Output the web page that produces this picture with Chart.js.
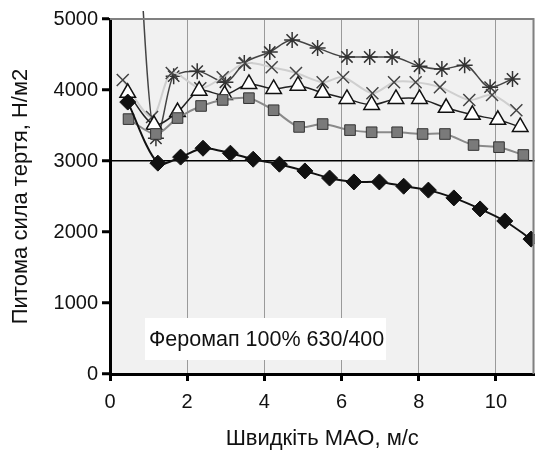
<!DOCTYPE html>
<html>
<head>
<meta charset="utf-8">
<script src="https://cdn.jsdelivr.net/npm/chart.js@4.4.0/dist/chart.umd.min.js"></script>
<style>
  body { margin: 0; background: #fff; }
</style>
</head>
<body>
<canvas id="mycanvas" width="545" height="450"></canvas>
<script>
// values
var xTicks = [0, 2, 4, 6, 8, 10];
var yTicks = [0, 1000, 2000, 3000, 4000, 5000];

var diamondX = [0.46, 1.24, 1.83, 2.41, 3.12, 3.71, 4.39, 5.05, 5.69, 6.32, 6.98, 7.61, 8.25, 8.91, 9.59, 10.23, 10.91];
var diamondY = [3830, 2970, 3055, 3180, 3110, 3025, 2955, 2860, 2760, 2705, 2705, 2645, 2590, 2480, 2325, 2155, 1900];

var squareX = [0.48, 1.19, 1.75, 2.36, 2.92, 3.60, 4.24, 4.90, 5.51, 6.22, 6.78, 7.44, 8.10, 8.68, 9.42, 10.08, 10.71];
var squareY = [3590, 3380, 3605, 3775, 3860, 3885, 3715, 3480, 3520, 3435, 3405, 3405, 3380, 3380, 3225, 3195, 3085];

var triangleX = [0.46, 1.14, 1.75, 2.31, 2.97, 3.60, 4.24, 4.87, 5.51, 6.14, 6.78, 7.41, 8.02, 8.71, 9.39, 10.05, 10.63];
var triangleY = [3960, 3510, 3690, 3990, 3930, 4085, 4015, 4060, 3960, 3875, 3790, 3875, 3875, 3750, 3650, 3580, 3480];

var crossX = [0.33, 1.09, 1.60, 2.34, 2.92, 3.50, 4.19, 4.82, 5.51, 6.04, 6.80, 7.36, 7.92, 8.55, 9.31, 9.90, 10.53];
var crossY = [4140, 3620, 4240, 4025, 4180, 4380, 4320, 4240, 4110, 4180, 3955, 4110, 4110, 4040, 3860, 3930, 3715];

var starX = [0.46, 1.19, 1.65, 2.26, 2.99, 3.48, 4.14, 4.72, 5.38, 6.14, 6.73, 7.31, 8.02, 8.60, 9.19, 9.85, 10.43];
var starY = [9000, 3320, 4195, 4265, 4110, 4380, 4535, 4705, 4590, 4465, 4465, 4465, 4335, 4295, 4350, 4040, 4155];

var boxLabel = 'Феромап 100% 630/400';
var xTitle = 'Швидкіть МАО, м/с';
var yTitle = 'Питома сила тертя, Н/м2';

function pts(xs, ys) {
  var out = [];
  for (var i in xs) {
    out.push({x: xs[i], y: ys[i]});
  }
  return out;
}

var fontFamily = '"Liberation Sans", Arial, sans-serif';

var framePlugin = {
  id: 'frame',
  beforeDraw: function(chart) {
    var a = chart.chartArea, ctx = chart.ctx;
    ctx.save();
    ctx.fillStyle = '#f1f1f1';
    ctx.fillRect(a.left, a.top, a.right - a.left, a.bottom - a.top);
    ctx.restore();
  },
  afterDatasetsDraw: function(chart) {
    var a = chart.chartArea, ctx = chart.ctx;
    ctx.save();
    ctx.strokeStyle = '#808080';
    ctx.lineWidth = 2;
    ctx.beginPath();
    ctx.moveTo(a.left, a.top);
    ctx.lineTo(a.right - 1, a.top);
    ctx.lineTo(a.right - 1, a.bottom);
    ctx.stroke();
    // label box
    ctx.fillStyle = '#ffffff';
    ctx.fillRect(145, 318, 241, 42);
    ctx.fillStyle = '#111';
    ctx.font = '21.5px ' + fontFamily;
    ctx.textBaseline = 'middle';
    ctx.fillText(boxLabel, 149, 340);
    ctx.restore();
  }
};

var ctx = document.getElementById('mycanvas');

var scatterChart = new Chart(ctx, {
  type: 'scatter',
  data: {
    datasets: [
      {
        label: 'diamond',
        data: pts(diamondX, diamondY),
        showLine: true,
        borderColor: '#111',
        borderWidth: 2,
        backgroundColor: '#111',
        pointStyle: 'rectRot',
        pointRadius: 8,
        pointBorderColor: '#111',
        pointBorderWidth: 1,
        tension: 0.3,
        order: 1
      },
      {
        label: 'square',
        data: pts(squareX, squareY),
        showLine: true,
        borderColor: '#8a8a8a',
        borderWidth: 2,
        backgroundColor: '#7a7a7a',
        pointStyle: 'rect',
        pointRadius: 7.5,
        pointBorderColor: '#333',
        pointBorderWidth: 1,
        tension: 0.3,
        order: 2
      },
      {
        label: 'triangle',
        data: pts(triangleX, triangleY),
        showLine: true,
        borderColor: '#222',
        borderWidth: 1.5,
        backgroundColor: '#fff',
        pointStyle: 'triangle',
        pointRadius: 9,
        pointBorderColor: '#111',
        pointBorderWidth: 1.5,
        tension: 0.3,
        order: 3
      },
      {
        label: 'cross',
        data: pts(crossX, crossY),
        showLine: true,
        borderColor: '#cfcfcf',
        borderWidth: 2,
        backgroundColor: '#444',
        pointStyle: 'crossRot',
        pointRadius: 8.5,
        pointBorderColor: '#444',
        pointBorderWidth: 1.5,
        tension: 0.3,
        order: 4
      },
      {
        label: 'star',
        data: pts(starX, starY),
        showLine: true,
        borderColor: '#444',
        borderWidth: 1.5,
        backgroundColor: '#333',
        pointStyle: 'star',
        pointRadius: 8,
        pointBorderColor: '#333',
        pointBorderWidth: 1.5,
        cubicInterpolationMode: 'monotone',
        clip: {left: 0, top: 8, right: 0, bottom: 0},
        order: 5
      }
    ]
  },
  options: {
    responsive: false,
    animation: false,
    events: [],
    layout: { padding: { top: 19, right: 2, left: 0, bottom: 0 } },
    plugins: {
      legend: { display: false },
      tooltip: { enabled: false }
    },
    scales: {
      x: {
        type: 'linear',
        min: 0,
        max: 11,
        afterFit: function(scale) { scale.height = 76; },
        afterBuildTicks: function(scale) {
          scale.ticks = xTicks.map(function(v) { return {value: v}; });
        },
        ticks: {
          includeBounds: false,
          autoSkip: false,
          maxRotation: 0,
          padding: 9,
          color: '#111',
          font: { family: fontFamily, size: 20 },
          callback: function(v) { return '' + v; }
        },
        grid: {
          color: function(c) { return c.tick && c.tick.value > 0 ? '#9a9a9a' : 'rgba(0,0,0,0)'; },
          lineWidth: 1,
          tickColor: '#000',
          tickWidth: 3,
          tickLength: 7
        },
        border: { color: '#000', width: 3 },
        title: {
          display: true,
          text: xTitle,
          color: '#111',
          font: { family: fontFamily, size: 22, lineHeight: 1 },
          padding: { top: 0, bottom: 0 }
        }
      },
      y: {
        type: 'linear',
        min: 0,
        max: 5000,
        afterFit: function(scale) { scale.width = 110; },
        afterBuildTicks: function(scale) {
          scale.ticks = yTicks.map(function(v) { return {value: v}; });
        },
        ticks: {
          padding: 4,
          color: '#111',
          font: { family: fontFamily, size: 20 },
          callback: function(v) { return '' + v; }
        },
        grid: {
          color: function(c) { return c.tick && c.tick.value === 3000 ? '#000' : 'rgba(0,0,0,0)'; },
          lineWidth: 1.5,
          tickColor: '#000',
          tickWidth: 3,
          tickLength: 8
        },
        border: { color: '#000', width: 3 },
        title: {
          display: true,
          text: yTitle,
          color: '#111',
          font: { family: fontFamily, size: 22, lineHeight: 1 },
          padding: { top: 10, bottom: 0 }
        }
      }
    }
  },
  plugins: [framePlugin]
});
</script>
</body>
</html>
